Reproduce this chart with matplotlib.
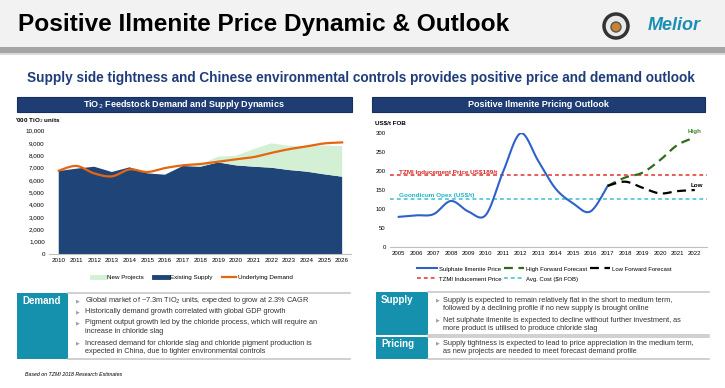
import matplotlib
matplotlib.use("Agg")
import matplotlib.pyplot as plt
import numpy as np
from matplotlib.lines import Line2D
from matplotlib.patches import Circle, Rectangle

plt.rcParams["font.family"] = ["Liberation Sans", "DejaVu Sans"]

# ---- left chart: TiO2 feedstock ('000 TiO2 units)
supply_years = [str(y) for y in range(2010, 2027)]
existing_supply = [6730, 6920, 7080, 6650, 7030, 6540, 6430, 7140, 7080,
                   7430, 7190, 7080, 7000, 6810, 6680, 6460, 6270]
new_projects = [0, 0, 0, 0, 0, 0, 0, 30, 170,
                470, 780, 1420, 1970, 1970, 2080, 2340, 2490]
underlying_demand = [6760, 7140, 6540, 6300, 6860, 6650, 6970, 7190, 7300,
                     7490, 7680, 7860, 8200, 8500, 8730, 8970, 9050]

# ---- right chart: sulphate ilmenite price (US$/t FOB)
price_years = [str(y) for y in range(2005, 2023)]
sulphate_price = [79, 83, 86, 121, 93, 84, 199, 300, 228, 154, 115, 93, 161]
forecast_start = 12  # 2017
high_forecast = [161, 183, 196, 229, 269, 289]
low_forecast = [161, 172, 156, 141, 147, 150]
inducement_price = 189
avg_cost = 125

NAVY = "#1f4478"
GREEN_FILL = "#d4f0d4"
ORANGE = "#e8650f"
BLUE = "#2f62c9"
DARK_GREEN = "#2e6b1e"
RED = "#e0302c"
CYAN = "#3bbfd0"
TEAL_BOX = "#1591ad"
BAR_NAVY = "#1f3d73"
TEXT = "#333333"

W, H = 725, 388


def fx(px):
    return px / W


def fy(py):
    return 1 - py / H


def smooth(xs, ys, steps=20):
    """Catmull-Rom curve through the points (Excel-style smoothed line)."""
    x = np.asarray(xs, float)
    y = np.asarray(ys, float)
    px = np.concatenate([[x[0]], x, [x[-1]]])
    py = np.concatenate([[y[0]], y, [y[-1]]])
    t = np.linspace(0, 1, steps, endpoint=False)
    out_x, out_y = [], []
    for i in range(1, len(px) - 2):
        for arr, out in ((px, out_x), (py, out_y)):
            p0, p1, p2, p3 = arr[i - 1:i + 3]
            out.extend(0.5 * (2 * p1 + (-p0 + p2) * t
                              + (2 * p0 - 5 * p1 + 4 * p2 - p3) * t ** 2
                              + (-p0 + 3 * p1 - 3 * p2 + p3) * t ** 3))
    out_x.append(x[-1])
    out_y.append(y[-1])
    return out_x, out_y


fig = plt.figure(figsize=(7.25, 3.88), dpi=100)

# ---- page overlay in pixel coordinates
page = fig.add_axes([0, 0, 1, 1])
page.set_xlim(0, W)
page.set_ylim(H, 0)
page.axis("off")

page.add_patch(Rectangle((0, 0), W, 47, color="#f2f2f2", lw=0))
page.add_patch(Rectangle((0, 47), W, 6, color="#a5a5a5", lw=0))
page.add_patch(Rectangle((0, 53), W, 2, color="#d9d9d9", lw=0))
page.text(18, 25, "Positive Ilmenite Price Dynamic & Outlook",
          fontsize=17.6, weight="bold", va="center", ha="left", color="black")

# logos (approximate)
page.add_patch(Circle((616, 26), 12, facecolor="#e9e9e9", edgecolor="#333333", lw=2.5))
page.add_patch(Circle((616, 27), 5, facecolor="#c9822e", edgecolor="#555555", lw=1))
page.text(648, 25, "Melior", fontsize=13, weight="bold",
          style="italic", color="#1b8fb3", va="center", ha="left")

page.text(361, 78, "Supply side tightness and Chinese environmental controls provides "
          "positive price and demand outlook", fontsize=9.8,
          weight="bold", color="#1f3d7a", ha="center", va="center")

for x0, x1, label in [(17, 352, "TiO$_2$ Feedstock Demand and Supply Dynamics"),
                      (372, 705, "Positive Ilmenite Pricing Outlook")]:
    page.add_patch(Rectangle((x0, 97), x1 - x0, 15, facecolor=BAR_NAVY,
                             edgecolor="#16305c", lw=0.8))
    page.text((x0 + x1) / 2, 104.5, label, fontsize=6.5,
              weight="bold", color="white", ha="center", va="center")

page.text(15, 121, "'000 TiO$_2$ units", fontsize=4.5, weight="bold",
          ha="left", va="center", color="black")
page.text(375, 123, r"US\$/t FOB", fontsize=4.5, weight="bold",
          ha="left", va="center", color="black")

# ---- bottom text boxes
BULLET = "\u25b6"


def text_panel(x0, x1, y0, y1):
    page.add_patch(Rectangle((x0, y0), x1 - x0, y1 - y0, facecolor="white",
                             edgecolor="none"))
    page.plot([x0, x1], [y0, y0], color="#c8c8c8", lw=1.2)
    page.plot([x0, x1], [y1, y1], color="#c8c8c8", lw=1.2)


def bullets(x_b, x_t, rows):
    for y, line, first in rows:
        if first:
            page.text(x_b, y, BULLET, fontsize=3.5, color="#a0a0a0",
                      ha="left", va="center", family=["DejaVu Sans"])
        page.text(x_t, y, line, fontsize=5.3, color=TEXT, ha="left", va="center")


page.add_patch(Rectangle((17, 292.5), 51, 66.5, color=TEAL_BOX, lw=0))
text_panel(68, 350, 292.5, 359)
page.text(22, 301, "Demand", fontsize=7, weight="bold", color="white",
          ha="left", va="center")
bullets(76, 85, [
    (300.7, "Global market of ~7.3m TiO$_2$ units, expected to grow at 2.3% CAGR", True),
    (311.7, "Historically demand growth correlated with global GDP growth", True),
    (322.7, "Pigment output growth led by the chloride process, which will require an", True),
    (331.7, "increase in chloride slag", False),
    (343.3, "Increased demand for chloride slag and chloride pigment production is", True),
    (351.7, "expected in China, due to tighter environmental controls", False),
])

page.add_patch(Rectangle((376, 292), 52, 43, color=TEAL_BOX, lw=0))
page.add_patch(Rectangle((376, 337), 52, 22, color=TEAL_BOX, lw=0))
text_panel(428, 709, 292, 335)
text_panel(428, 709, 337, 359)
page.text(381, 300, "Supply", fontsize=7, weight="bold", color="white",
          ha="left", va="center")
page.text(381, 344, "Pricing", fontsize=7, weight="bold", color="white",
          ha="left", va="center")
bullets(436, 443, [
    (300, "Supply is expected to remain relatively flat in the short to medium term,", True),
    (308.3, "followed by a declining profile if no new supply is brought online", False),
    (320, "Net sulphate ilmenite is expected to decline without further investment, as", True),
    (329, "more product is utilised to produce chloride slag", False),
    (343.3, "Supply tightness is expected to lead to price appreciation in the medium term,", True),
    (351.7, "as new projects are needed to meet forecast demand profile", False),
])

page.text(25, 374, "Based on TZMI 2018 Research Estimates", fontsize=3.8,
          style="italic", color="black", ha="left", va="center")

# ---- left chart
ax1 = fig.add_axes([fx(49), fy(254), (351 - 49) / W, (254 - 130.7) / H])
xs = np.arange(len(supply_years))
ax1.stackplot(xs, existing_supply, new_projects, colors=[NAVY, GREEN_FILL],
              linewidth=0)
dx, dy = smooth(xs, underlying_demand)
ax1.plot(dx, dy, color=ORANGE, lw=1.6)
ax1.set_xlim(-0.55, len(supply_years) - 0.5)
ax1.set_ylim(0, 10000)
ax1.set_xticks(xs, supply_years)
ax1.set_yticks(range(0, 10001, 1000),
               [f"{v:,}" for v in range(0, 10001, 1000)])
ax1.tick_params(labelsize=4.5, length=0, pad=3, colors="black")

# ---- right chart
ax2 = fig.add_axes([fx(390), fy(246.7), (707 - 390) / W, (246.7 - 133.3) / H])
px_all = np.arange(len(price_years))
ax2.axhline(inducement_price, color=RED, lw=1.1, ls=(0, (2.5, 2)))
ax2.axhline(avg_cost, color=CYAN, lw=1.1, ls=(0, (2.5, 2)))
sx, sy = smooth(px_all[:len(sulphate_price)], sulphate_price)
ax2.plot(sx, sy, color=BLUE, lw=1.5)
fx_idx = px_all[forecast_start:forecast_start + len(high_forecast)]
hx, hy = smooth(fx_idx, high_forecast)
ax2.plot(hx, hy, color=DARK_GREEN, lw=1.6, ls=(0, (4, 2.5)))
lx, ly = smooth(fx_idx, low_forecast)
ax2.plot(lx, ly, color="black", lw=1.6, ls=(0, (4, 2.5)))
ax2.text(0, inducement_price + 3, r"TZMI Inducement Price US\$189/t",
         color="#d42a2a", fontsize=4.6, weight="bold", ha="left", va="bottom")
ax2.text(0, avg_cost + 3, r"Goondicum Opex (US\$/t)", color="#1fb5c8",
         fontsize=4.6, weight="bold", ha="left", va="bottom")
ax2.text(17, 304, "High", color="#3f8a2a", fontsize=4.5, weight="bold",
         ha="center", va="center", clip_on=False)
ax2.text(17.1, 163, "Low", color="black", fontsize=4.5, weight="bold",
         ha="center", va="center")
ax2.set_xlim(-0.5, len(price_years) - 0.3)
ax2.set_ylim(0, 300)
ax2.set_xticks(px_all, price_years)
ax2.set_yticks(range(0, 301, 50))
ax2.tick_params(labelsize=4.3, length=0, pad=3, colors="black")

for ax in (ax1, ax2):
    for side in ("top", "right", "left"):
        ax.spines[side].set_visible(False)
    ax.spines["bottom"].set_color("#bfbfbf")
    ax.spines["bottom"].set_linewidth(0.8)
    ax.set_facecolor("none")

# ---- legends
left_handles = [
    Line2D([], [], color=GREEN_FILL, lw=3.5, label="New Projects"),
    Line2D([], [], color=NAVY, lw=3.5, label="Existing Supply"),
    Line2D([], [], color=ORANGE, lw=1.6, label="Underlying Demand"),
]
fig.legend(handles=left_handles, loc="center", bbox_to_anchor=(fx(192), fy(277)),
           ncol=3, fontsize=4.5, frameon=False, handlelength=2.2,
           columnspacing=1.6, handletextpad=0.3)

right_handles = [
    Line2D([], [], color=BLUE, lw=1.5, label="Sulphate Ilmenite Price"),
    Line2D([], [], color=RED, lw=1.1, ls=(0, (2.5, 2)), label="TZMI Inducement Price"),
    Line2D([], [], color=DARK_GREEN, lw=1.6, ls=(0, (4, 2.5)), label="High Forward Forecast"),
    Line2D([], [], color=CYAN, lw=1.1, ls=(0, (2.5, 2)), label=r"Avg. Cost (\$/t FOB)"),
    Line2D([], [], color="black", lw=1.6, ls=(0, (4, 2.5)), label="Low Forward Forecast"),
]
fig.legend(handles=right_handles, loc="upper left", bbox_to_anchor=(fx(412), fy(261)),
           ncol=3, fontsize=4.3, frameon=False, handlelength=3.3,
           columnspacing=0.5, handletextpad=0.3, labelspacing=0.8)

fig.savefig("out.png", dpi=100)
